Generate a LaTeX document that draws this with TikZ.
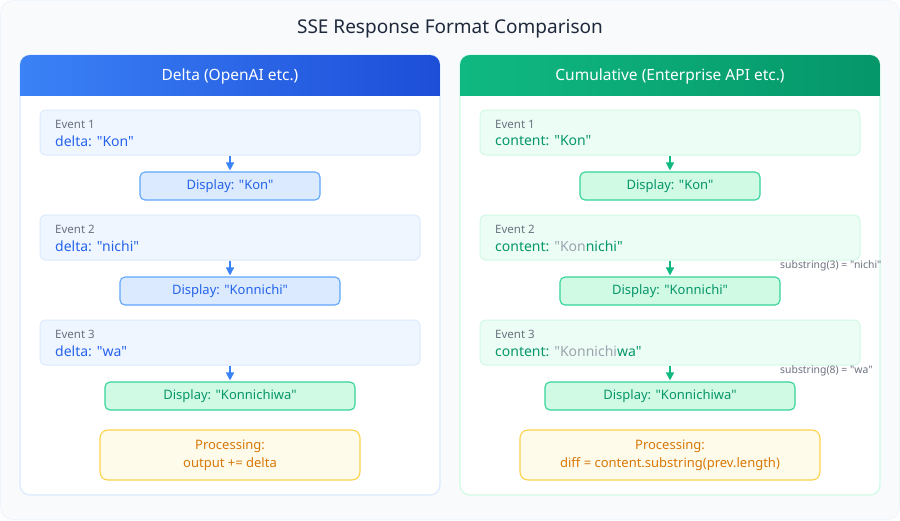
\documentclass[tikz,border=0pt]{standalone}
\usepackage{fontspec}
\setmainfont{Noto Sans}[Ligatures=TeXOff]
\usetikzlibrary{arrows.meta}
\definecolor{bg}{HTML}{F8FAFC}
\definecolor{titlec}{HTML}{1E293B}
\definecolor{blueA}{HTML}{3B82F6}
\definecolor{blueB}{HTML}{1D4ED8}
\definecolor{greenA}{HTML}{10B981}
\definecolor{greenB}{HTML}{059669}
\definecolor{bluetxt}{HTML}{2563EB}
\definecolor{greentxt}{HTML}{059669}
\definecolor{graylbl}{HTML}{6B7280}
\definecolor{grayfade}{HTML}{9CA3AF}
\definecolor{orangetxt}{HTML}{D97706}
\definecolor{evblue}{HTML}{EFF6FF}
\definecolor{evblueb}{HTML}{DBEAFE}
\definecolor{evgreen}{HTML}{ECFDF5}
\definecolor{evgreenb}{HTML}{D1FAE5}
\definecolor{dispblue}{HTML}{DBEAFE}
\definecolor{dispblueb}{HTML}{60A5FA}
\definecolor{dispgreen}{HTML}{D1FAE5}
\definecolor{dispgreenb}{HTML}{34D399}
\definecolor{procfill}{HTML}{FFFBEB}
\definecolor{procb}{HTML}{FCD34D}
\begin{document}
\begin{tikzpicture}[x=1pt,y=-1pt,
  evbox/.style={draw=#1b, fill=#1, line width=1pt, rounded corners=6pt, minimum width=380pt, minimum height=45pt, inner sep=0pt},
  dispbox/.style={draw=#1b, fill=#1, line width=1.1pt, rounded corners=5pt, minimum height=28pt, inner sep=0pt, font=\fontsize{13}{15}\selectfont},
  procbox/.style={draw=procb, fill=procfill, line width=1.1pt, rounded corners=8pt, minimum height=50pt, inner sep=0pt, align=center, text=orangetxt, font=\fontsize{13}{18}\selectfont},
  evlbl/.style={anchor=west, inner sep=0pt, text=graylbl, font=\fontsize{11.5}{13}\selectfont},
  evtxt/.style={anchor=west, inner sep=0pt, font=\fontsize{14}{16}\selectfont},
  sublbl/.style={anchor=west, inner sep=0pt, text=graylbl, font=\fontsize{10.4}{12}\selectfont},
  arr/.style={draw=#1, line width=1.3pt, -{Triangle[length=8pt,width=8pt]}, shorten >=1pt},
  hdr/.style={text=white, font=\fontsize{15.5}{18}\selectfont},
]
\useasboundingbox (0,0) rectangle (900,520);
\fill[white] (0,0) rectangle (900,520);
\fill[bg, draw=evblueb!60, line width=0.5pt] (0.5,0.5) [rounded corners=12pt] rectangle (899.5,519.5);
\node (title) at (450,28.5) [text=titlec, font=\fontsize{19}{22}\selectfont] {SSE Response Format Comparison};

% Left panel
\node (lp) at (230,275) [draw=evblueb, fill=white, line width=1.2pt, rounded corners=10pt, minimum width=420pt, minimum height=440pt, inner sep=0pt] {};
\begin{scope}
\clip (20,55) [rounded corners=10pt] rectangle (440,130);
\clip (20,55) rectangle (440,95);
\shade[left color=blueA, right color=blueB] (20,55) rectangle (440,95);
\end{scope}
\node (lh) at (230,76) [hdr] {Delta (OpenAI etc.)};

% Right panel
\node (rp) at (670,275) [draw=evgreenb, fill=white, line width=1.2pt, rounded corners=10pt, minimum width=420pt, minimum height=440pt, inner sep=0pt] {};
\begin{scope}
\clip (460,55) [rounded corners=10pt] rectangle (880,130);
\clip (460,55) rectangle (880,95);
\shade[left color=greenA, right color=greenB] (460,55) rectangle (880,95);
\end{scope}
\node (rh) at (670,76) [hdr] {Cumulative (Enterprise API etc.)};

% Left events
\node (le1) at (230,132.5) [evbox=evblue] {};
\node (le1l) at (55,124) [evlbl] {Event 1};
\node (le1t) at (55,141) [evtxt, text=bluetxt] {delta: "Kon"};
\node (ld1) at (230,186) [dispbox=dispblue, minimum width=180pt, text=bluetxt] {Display: "Kon"};
\draw[arr=blueA] (le1.south) -- (ld1.north);

\node (le2) at (230,237.5) [evbox=evblue] {};
\node (le2l) at (55,229) [evlbl] {Event 2};
\node (le2t) at (55,246) [evtxt, text=bluetxt] {delta: "nichi"};
\node (ld2) at (230,291) [dispbox=dispblue, minimum width=220pt, text=bluetxt] {Display: "Konnichi"};
\draw[arr=blueA] (le2.south) -- (ld2.north);

\node (le3) at (230,342.5) [evbox=evblue] {};
\node (le3l) at (55,334) [evlbl] {Event 3};
\node (le3t) at (55,351) [evtxt, text=bluetxt] {delta: "wa"};
\node (ld3) at (230,396) [dispbox=dispgreen, minimum width=250pt, text=greentxt] {Display: "Konnichiwa"};
\draw[arr=blueA] (le3.south) -- (ld3.north);

\node (lproc) at (230,455) [procbox, minimum width=260pt] {Processing:\\output += delta};

% Right events
\node (re1) at (670,132.5) [evbox=evgreen] {};
\node (re1l) at (495,124) [evlbl] {Event 1};
\node (re1t) at (495,141) [evtxt, text=greentxt] {content: "Kon"};
\node (rd1) at (670,186) [dispbox=dispgreen, minimum width=180pt, text=greentxt] {Display: "Kon"};
\draw[arr=greenA] (re1.south) -- (rd1.north);

\node (re2) at (670,237.5) [evbox=evgreen] {};
\node (re2l) at (495,229) [evlbl] {Event 2};
\node (re2t) at (495,246) [evtxt, text=greentxt] {content: \textcolor{grayfade}{"Kon}nichi"};
\node (rd2) at (670,291) [dispbox=dispgreen, minimum width=220pt, text=greentxt] {Display: "Konnichi"};
\draw[arr=greenA] (re2.south) -- (rd2.north);
\node (rs2) at (780,266) [sublbl] {substring(3) = "nichi"};

\node (re3) at (670,342.5) [evbox=evgreen] {};
\node (re3l) at (495,334) [evlbl] {Event 3};
\node (re3t) at (495,351) [evtxt, text=greentxt] {content: \textcolor{grayfade}{"Konnichi}wa"};
\node (rd3) at (670,396) [dispbox=dispgreen, minimum width=250pt, text=greentxt] {Display: "Konnichiwa"};
\draw[arr=greenA] (re3.south) -- (rd3.north);
\node (rs3) at (780,371) [sublbl] {substring(8) = "wa"};

\node (rproc) at (670,455) [procbox, minimum width=300pt] {Processing:\\diff = content.substring(prev.length)};
\end{tikzpicture}
\end{document}
